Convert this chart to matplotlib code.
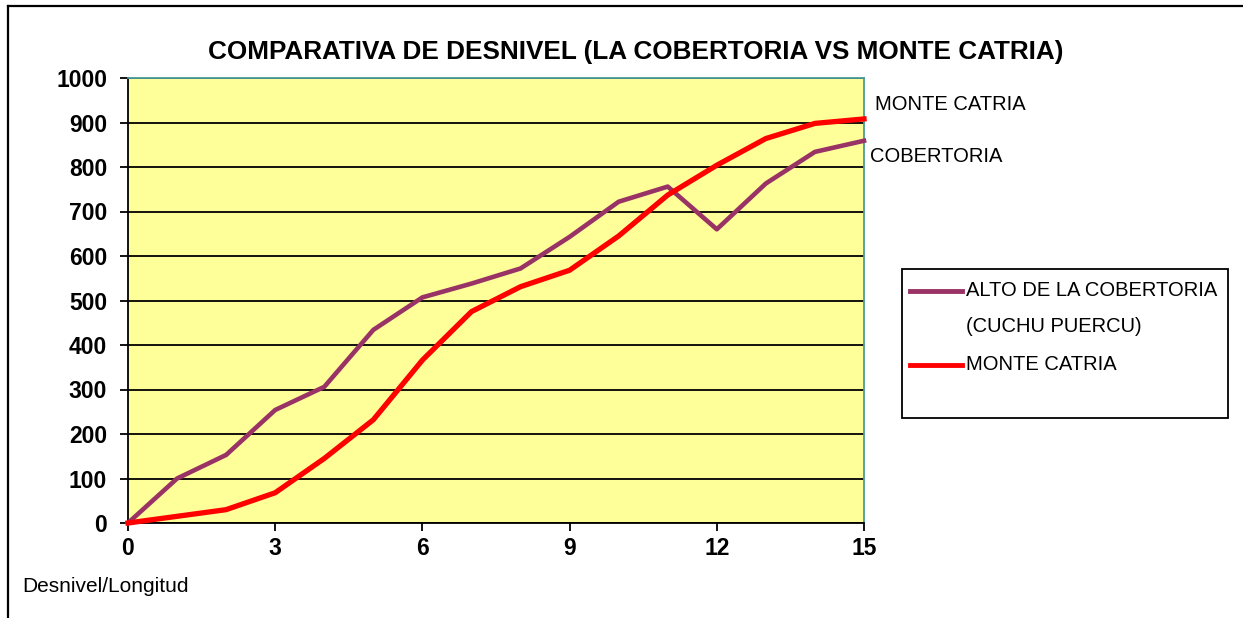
import matplotlib
matplotlib.use("Agg")
import matplotlib.pyplot as plt
from matplotlib.lines import Line2D
from matplotlib.patches import Rectangle

# valores (km 0..15)
km = list(range(16))
cobertoria = [0, 100, 153, 254, 306, 434, 507, 538, 572, 643, 722, 756, 660, 763, 834, 859]
catria = [0, 15, 30, 68, 145, 232, 366, 475, 531, 568, 645, 737, 804, 864, 898, 908]
x_ticks = [0, 3, 6, 9, 12, 15]
y_ticks = list(range(0, 1001, 100))

title = 'COMPARATIVA DE DESNIVEL (LA COBERTORIA VS MONTE CATRIA)'
legend_labels = ['ALTO DE LA COBERTORIA\n(CUCHU PUERCU)', 'MONTE CATRIA']
end_labels = ['MONTE CATRIA', 'COBERTORIA']

COLOR_COB = '#993366'
COLOR_CAT = '#FF0000'
W, H = 1243, 618

plt.rcParams['font.family'] = ['Liberation Sans', 'DejaVu Sans']


def fx(px):
    return px / W


def fy(py):
    return 1 - py / H


fig = plt.figure(figsize=(W / 100, H / 100), dpi=100)
ax = fig.add_axes([fx(128), fy(523), fx(864) - fx(128), fy(78) - fy(523)])

ax.set_facecolor('#FFFF99')
ax.set_xlim(0, 15)
ax.set_ylim(0, 1000)
ax.set_xticks(x_ticks)
ax.set_yticks(y_ticks)
ax.yaxis.grid(True, color='black', linewidth=1.3)
ax.set_axisbelow(True)

for side in ['left', 'bottom']:
    ax.spines[side].set_color('black')
    ax.spines[side].set_linewidth(1.3)
for side in ['top', 'right']:
    ax.spines[side].set_color('#4A9C9C')
    ax.spines[side].set_linewidth(1.3)

ax.tick_params(axis='y', direction='out', length=6, width=1.3, labelsize=16.5, pad=9)
ax.tick_params(axis='x', direction='out', length=6, width=1.3, labelsize=16.5, pad=4)
for lab in ax.get_xticklabels() + ax.get_yticklabels():
    lab.set_fontweight('bold')

# series (rojo encima)
ax.plot(km, cobertoria, color=COLOR_COB, linewidth=3.3, clip_on=False, zorder=3)
ax.plot(km, catria, color=COLOR_CAT, linewidth=3.8, clip_on=False, zorder=4)

# textos
fig.text(fx(636), fy(52), title, ha='center', va='center', fontsize=18.8, fontweight='bold')
fig.text(fx(875), fy(105), end_labels[0], ha='left', va='center', fontsize=14.5)
fig.text(fx(870), fy(157), end_labels[1], ha='left', va='center', fontsize=14.5)
fig.text(fx(22), fy(587), 'Desnivel/Longitud', ha='left', va='center', fontsize=15)

# leyenda dibujada a mano (estilo excel)
fig.add_artist(Rectangle((fx(902), fy(418)), fx(1228) - fx(902), fy(269) - fy(418),
                         transform=fig.transFigure, fill=False, edgecolor='black', linewidth=1.3))
fig.add_artist(Line2D([fx(910), fx(962)], [fy(291), fy(291)], transform=fig.transFigure,
                      color=COLOR_COB, linewidth=3.5))
fig.add_artist(Line2D([fx(910), fx(962)], [fy(365), fy(365)], transform=fig.transFigure,
                      color=COLOR_CAT, linewidth=3.5))
fig.text(fx(966), fy(291), legend_labels[0].split('\n')[0], ha='left', va='center', fontsize=14.5)
fig.text(fx(966), fy(327), legend_labels[0].split('\n')[1], ha='left', va='center', fontsize=14.5)
fig.text(fx(966), fy(365), legend_labels[1], ha='left', va='center', fontsize=14.5)

# marco del grafico
fig.add_artist(Line2D([fx(8), 1.0], [fy(6), fy(6)], transform=fig.transFigure, color='black', linewidth=1.6))
fig.add_artist(Line2D([fx(8), fx(8)], [fy(6), 0.0], transform=fig.transFigure, color='black', linewidth=1.6))

fig.savefig('out.png', dpi=100)
